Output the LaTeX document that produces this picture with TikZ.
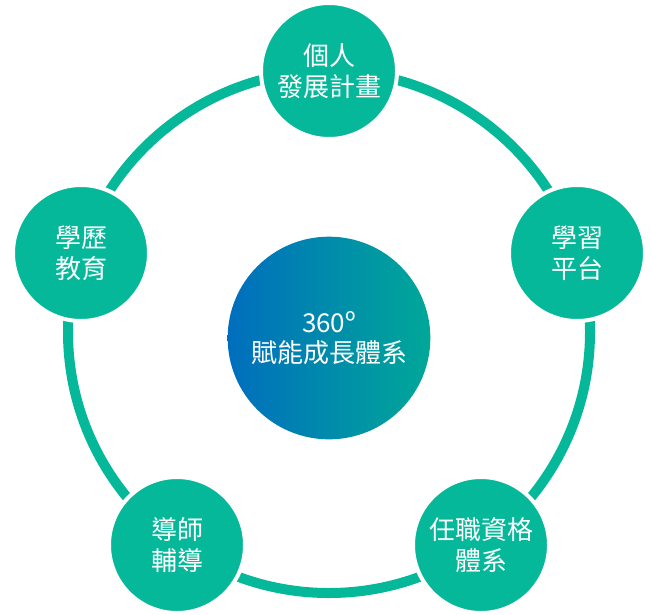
\documentclass[tikz,border=0pt]{standalone}
\usepackage{fontspec}
\setmainfont{Noto Sans CJK TC}
\definecolor{teal1}{RGB}{6,184,154}
\definecolor{gblue}{RGB}{0,110,190}
\definecolor{gteal}{RGB}{0,168,152}
\begin{document}
\begin{tikzpicture}[x=0.75pt,y=-0.75pt,
  ring/.style={draw=teal1,line width=7.5pt},
  outer/.style={circle,fill=teal1,draw=white,line width=3pt,minimum size=102pt,inner sep=0pt,
    text=white,align=center,font=\fontsize{19.5pt}{23pt}\selectfont},
  hub/.style={circle,left color=gblue,right color=gteal,minimum size=152pt,inner sep=0pt,
    text=white,align=center,font=\fontsize{19.5pt}{23pt}\selectfont}]
\useasboundingbox (0,0) rectangle (652,614);
\coordinate (c) at (329,332);
\draw[ring] (c) circle[radius=195.75pt];
\node[outer] (n1) at (329,71) {個人\\發展計畫};
\node[outer] (n2) at (577,253) {學習\\平台};
\node[outer] (n3) at (481,545) {任職資格\\體系};
\node[outer] (n4) at (177,545) {導師\\輔導};
\node[outer] (n5) at (81,253) {學歷\\教育};
\node[hub] (h) at (329,338) {360º\\賦能成長體系};
\end{tikzpicture}
\end{document}
